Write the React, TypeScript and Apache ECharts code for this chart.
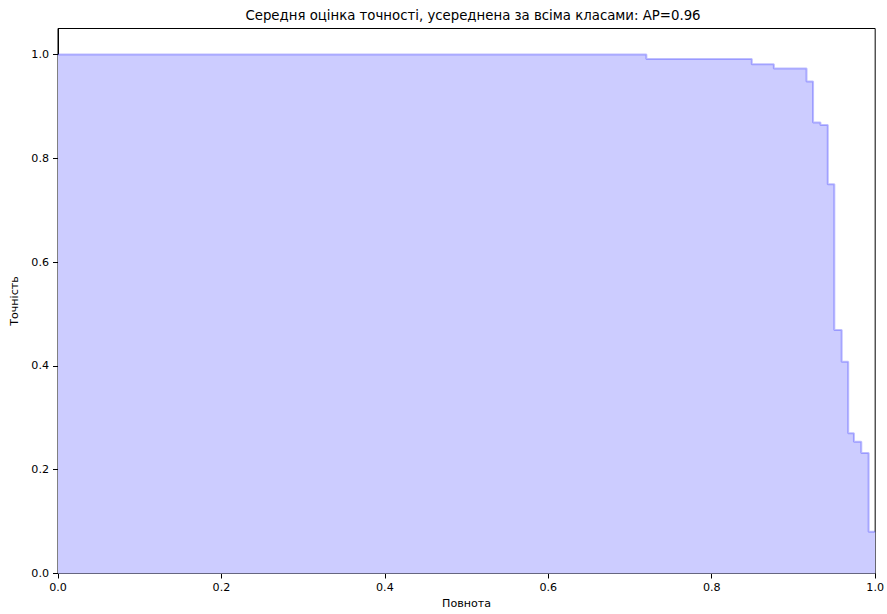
import React, { useEffect, useRef } from "react";
import * as echarts from "echarts";

const recall = [0, 0.72, 0.849, 0.876, 0.916, 0.924, 0.933, 0.942, 0.95, 0.959, 0.967, 0.974, 0.983, 0.992, 1.0];
const precision = [1.0, 0.991, 0.981, 0.973, 0.948, 0.869, 0.864, 0.75, 0.469, 0.408, 0.27, 0.254, 0.232, 0.0806, 0.0806];
const xTicks = [0, 0.2, 0.4, 0.6, 0.8, 1.0];
const yTicks = [0, 0.2, 0.4, 0.6, 0.8, 1.0];
const title = "Середня оцінка точності, усереднена за всіма класами: AP=0.96";
const xName = "Повнота";
const yName = "Точність";

export default function App() {
  const ref = useRef<HTMLDivElement>(null);
  useEffect(() => {
    if (!ref.current) return;
    const chart = echarts.init(ref.current, undefined, { renderer: "svg" });
    const font = "DejaVu Sans";
    chart.setOption({
      animation: false,
      title: {
        text: title,
        left: 468,
        textAlign: "center",
        top: 4,
        textStyle: { fontFamily: font, fontSize: 13.3, fontWeight: "normal", color: "#000" },
      },
      grid: {
        left: 58,
        right: 9,
        top: 28.5,
        bottom: 40.5,
        show: true,
        borderColor: "#000",
        borderWidth: 1,
        backgroundColor: "transparent",
      },
      xAxis: {
        type: "value",
        min: 0,
        max: 1,
        interval: 0.2,
        name: xName,
        nameLocation: "middle",
        nameGap: 24,
        nameTextStyle: { fontFamily: font, fontSize: 11.1, color: "#000" },
        axisLine: { show: true, onZero: false, lineStyle: { color: "#000", width: 1 } },
        axisTick: { show: true, inside: false, length: 5, customValues: xTicks, lineStyle: { color: "#000" } },
        axisLabel: {
          customValues: xTicks,
          margin: 8,
          fontFamily: font,
          fontSize: 11.1,
          color: "#000",
          formatter: (v: number) => v.toFixed(1),
        },
        splitLine: { show: false },
      },
      yAxis: {
        type: "value",
        min: 0,
        max: 1.05,
        name: yName,
        nameLocation: "middle",
        nameGap: 38,
        nameTextStyle: { fontFamily: font, fontSize: 11.1, color: "#000" },
        axisLine: { show: true, onZero: false, lineStyle: { color: "#000", width: 1 } },
        axisTick: { show: true, inside: false, length: 5, customValues: yTicks, lineStyle: { color: "#000" } },
        axisLabel: {
          customValues: yTicks,
          margin: 9,
          fontFamily: font,
          fontSize: 11.1,
          color: "#000",
          formatter: (v: number) => v.toFixed(1),
        },
        splitLine: { show: false },
      },
      series: [
        {
          type: "line",
          step: "end",
          data: recall.map((r, i) => [r, precision[i]]),
          showSymbol: false,
          symbol: "none",
          lineStyle: { color: "rgba(0,0,255,0.25)", width: 2 },
          areaStyle: { color: "#ccccff", opacity: 1, origin: "start" },
          z: 1,
        },
      ],
    });
    return () => chart.dispose();
  }, []);
  return <div ref={ref} style={{ width: 887, height: 614, position: "absolute", left: 0, top: 0 }} />;
}
